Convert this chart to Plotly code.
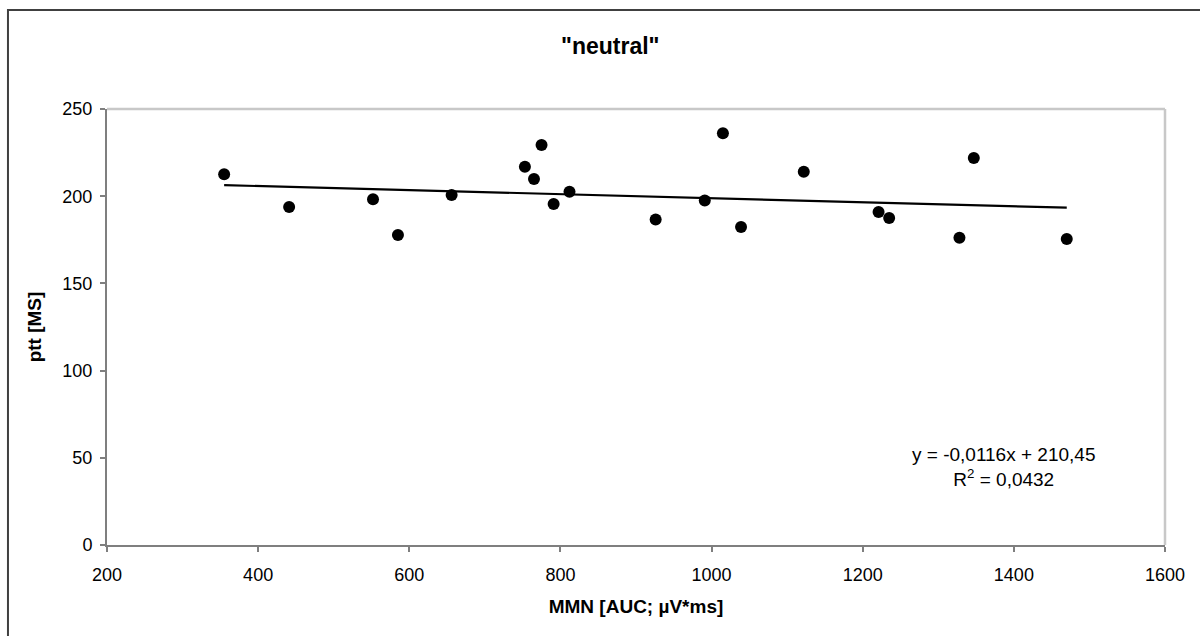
import plotly.graph_objects as go

# Data
mmn_auc = [355, 441, 552, 585, 656, 753, 765, 775, 791, 812,
           926, 991, 1015, 1039, 1122, 1221, 1235, 1328, 1347, 1470]
ptt_ms = [212.6, 193.8, 198.2, 177.8, 200.7, 216.9, 209.9, 229.4, 195.5, 202.6,
          186.6, 197.5, 236.1, 182.3, 214.0, 190.9, 187.5, 176.2, 221.9, 175.5]

slope = -0.0116
intercept = 210.45
r_squared = 0.0432

x_tick_vals = [200, 400, 600, 800, 1000, 1200, 1400, 1600]
y_tick_vals = [0, 50, 100, 150, 200, 250]

trend_x = [min(mmn_auc), max(mmn_auc)]
trend_y = [slope * v + intercept for v in trend_x]

FONT = "Liberation Sans, Arial, sans-serif"

fig = go.Figure()
fig.add_trace(go.Scatter(
    x=trend_x, y=trend_y, mode="lines",
    line=dict(color="black", width=2.2), hoverinfo="skip", showlegend=False))
fig.add_trace(go.Scatter(
    x=mmn_auc, y=ptt_ms, mode="markers",
    marker=dict(color="black", size=12, line=dict(width=0)), showlegend=False))

fig.update_layout(
    width=1200, height=636,
    margin=dict(l=107, r=35, t=109, b=91),
    paper_bgcolor="white", plot_bgcolor="white",
    font=dict(family=FONT, color="black"),
    xaxis=dict(range=[200, 1600], tickvals=x_tick_vals, showgrid=False, zeroline=False,
               showline=True, linecolor="#7f7f7f", linewidth=2,
               ticks="outside", ticklen=5, tickcolor="#7f7f7f", tickwidth=1.5,
               ticklabelstandoff=7,
               tickfont=dict(size=18, family=FONT, color="black"),
               title=dict(text="<b>MMN [AUC; µV*ms]</b>", font=dict(size=19, family=FONT), standoff=16)),
    yaxis=dict(range=[0, 250], tickvals=y_tick_vals, showgrid=False, zeroline=False,
               showline=True, linecolor="#7f7f7f", linewidth=2,
               ticks="outside", ticklen=5, tickcolor="#7f7f7f", tickwidth=1.5,
               ticklabelstandoff=4,
               tickfont=dict(size=18, family=FONT, color="black"),
               title=dict(text="<b>ptt [MS]</b>", font=dict(size=19, family=FONT), standoff=16)),
    shapes=[
        # light gray top & right plot borders
        dict(type="line", xref="paper", yref="paper", x0=0, x1=1, y0=1, y1=1,
             line=dict(color="#c8c8c8", width=2.5)),
        dict(type="line", xref="paper", yref="paper", x0=1, x1=1, y0=0, y1=1,
             line=dict(color="#c8c8c8", width=2.5)),
        # outer chart frame
        dict(type="rect", xref="paper", yref="paper", x0=-0.0936, x1=1.2, y0=-0.4, y1=1.2271,
             line=dict(color="#404040", width=2), layer="above"),
    ],
    annotations=[
        dict(text="<b>\"neutral\"</b>", xref="paper", yref="paper",
             x=(610 - 107) / 1058, y=(545 - 46) / 436, xanchor="center", yanchor="middle",
             showarrow=False, font=dict(size=23, family=FONT)),
        dict(text=f"y = {slope:.4f}x + {intercept:.2f}".replace(".", ",") +
                  "<br>R<sup>2</sup> = " + f"{r_squared:.4f}".replace(".", ","),
             xref="paper", yref="paper", x=(1003 - 107) / 1058, y=(545 - 467) / 436,
             xanchor="center", yanchor="middle", align="center", showarrow=False,
             font=dict(size=19, family=FONT)),
    ],
)

fig.write_html("out.html")
